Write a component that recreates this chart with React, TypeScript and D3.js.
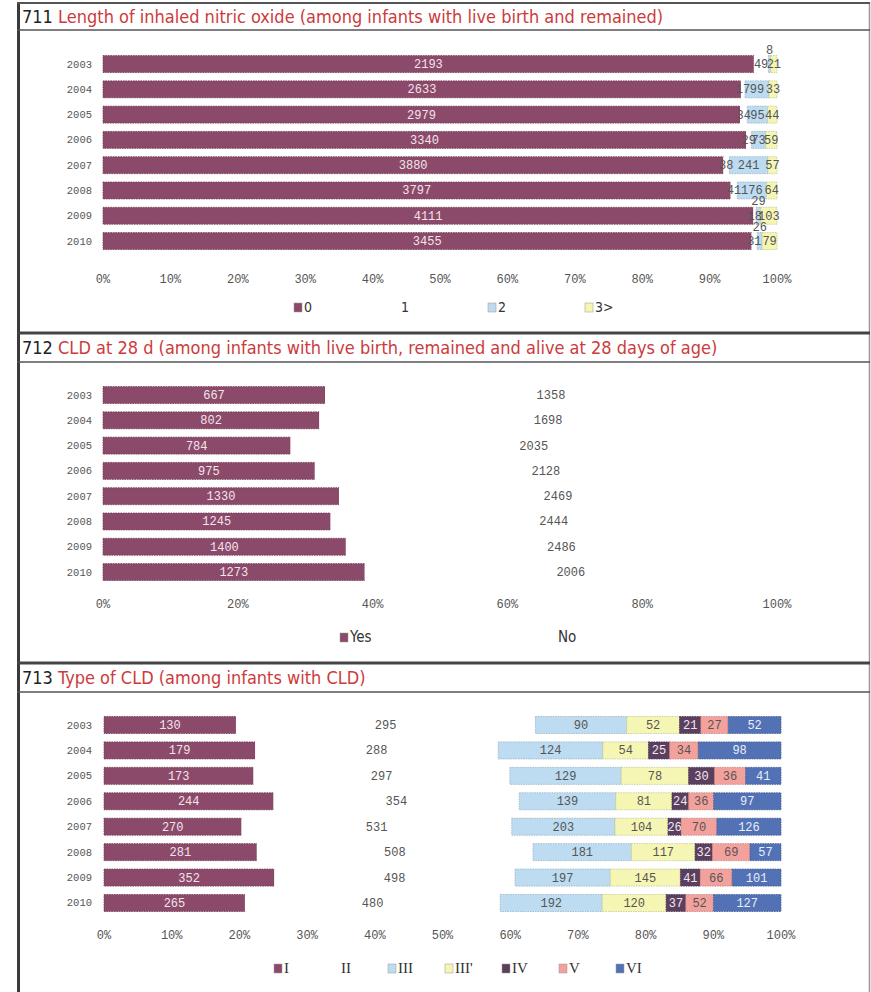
import * as d3 from "d3";
import React from "react";

const width = 871;
const height = 992;

const years = ["2003", "2004", "2005", "2006", "2007", "2008", "2009", "2010"];

// 711 length of inhaled nitric oxide
const no0 = [2193, 2633, 2979, 3340, 3880, 3797, 4111, 3455];
const no1 = [49, 17, 34, 29, 38, 41, 18, 31];
const no2 = [8, 99, 95, 73, 241, 176, 29, 26];
const no3 = [21, 33, 44, 59, 57, 64, 103, 79];

// 712 CLD at 28 d
const cldYes = [667, 802, 784, 975, 1330, 1245, 1400, 1273];
const cldNo = [1358, 1698, 2035, 2128, 2469, 2444, 2486, 2006];

// 713 type of CLD
const typeI = [130, 179, 173, 244, 270, 281, 352, 265];
const typeII = [295, 288, 297, 354, 531, 508, 498, 480];
const typeIII = [90, 124, 129, 139, 203, 181, 197, 192];
const typeIIIp = [52, 54, 78, 81, 104, 117, 145, 120];
const typeIV = [21, 25, 30, 24, 26, 32, 41, 37];
const typeV = [27, 34, 36, 36, 70, 69, 66, 52];
const typeVI = [52, 98, 41, 97, 126, 57, 101, 127];

const ticks10 = [0, 0.1, 0.2, 0.3, 0.4, 0.5, 0.6, 0.7, 0.8, 0.9, 1];
const ticks20 = [0, 0.2, 0.4, 0.6, 0.8, 1];

const plum = "#8c4a6a";
const lightBlue = "#bddcf1";
const paleYellow = "#f6f6b4";
const darkPlum = "#5b3f5e";
const salmon = "#f2a19c";
const steel = "#5371b5";

const monoFont = "'Liberation Mono', 'DejaVu Sans Mono', monospace";
const narrowFont = "'DejaVu Sans Condensed', 'Liberation Sans Narrow', sans-serif";

type Series = {
  name: string;
  values: number[];
  fill: string;
  text: string;
  above?: boolean;
};

type ChartProps = {
  series: Series[];
  yTop: number;
  yBottom: number;
  x0: number;
  x1: number;
  ticks: number[];
  tickY: number;
  legendY: number;
  legendX: number;
  legendStep: number;
  legendFont: string;
  legendSize: number;
};

const Chart = ({ series, yTop, yBottom, x0, x1, ticks, tickY, legendY, legendX, legendStep, legendFont, legendSize }: ChartProps) => {
  const keys = series.map((s) => s.name);
  const rows = years.map((y, i) => {
    const r: any = { year: y };
    series.forEach((s) => (r[s.name] = s.values[i]));
    return r;
  });
  const stacked = d3.stack().keys(keys).offset(d3.stackOffsetExpand)(rows);
  const x = d3.scaleLinear().domain([0, 1]).range([x0, x1]);
  const y = d3.scaleBand().domain(years).range([yTop, yBottom]).paddingInner(0.33).paddingOuter(0.165);
  const fmt = d3.format(".0%");

  return (
    <g>
      {years.map((yr) => (
        <text key={yr} x={92} y={y(yr)! + y.bandwidth() / 2 + 3.5} textAnchor="end" fontFamily={monoFont} fontSize={10.5} fill="#555">
          {yr}
        </text>
      ))}
      {stacked.map((layer, li) => (
        <g key={layer.key}>
          {layer.map((d, i) => {
            const s = series[li];
            return (
              <rect
                key={i}
                x={x(d[0])}
                y={y(years[i])!}
                width={x(d[1]) - x(d[0])}
                height={y.bandwidth()}
                fill={s.fill}
                stroke={s.fill === "#ffffff" ? "none" : d3.color(s.fill)!.darker(0.6).formatHex()}
                strokeWidth={0.8}
                strokeDasharray="1.5 1"
              />
            );
          })}
        </g>
      ))}
      {stacked.map((layer, li) => (
        <g key={layer.key + "-labels"}>
          {layer.map((d, i) => {
            const s = series[li];
            const xa = x(d[0]);
            const w = x(d[1]) - x(d[0]);
            const top = y(years[i])!;
            const narrow = s.above && w < 8;
            return (
              <text
                key={i}
                x={xa + w / 2}
                y={narrow ? top - 2 : top + y.bandwidth() / 2 + 4}
                textAnchor="middle"
                fontFamily={monoFont}
                fontSize={12}
                fill={s.text}
              >
                {s.values[i]}
              </text>
            );
          })}
        </g>
      ))}
      {ticks.map((t) => (
        <text key={t} x={x(t)} y={tickY} textAnchor="middle" fontFamily={monoFont} fontSize={12} fill="#555">
          {fmt(t)}
        </text>
      ))}
      {series.map((s, i) => (
        <g key={s.name} transform={`translate(${legendX + i * legendStep}, ${legendY})`}>
          <rect x={0} y={-9} width={8} height={9} fill={s.fill} stroke={s.fill === "#ffffff" ? "none" : "#999"} strokeWidth={0.5} />
          <text x={10} y={0} fontFamily={legendFont} fontSize={legendSize} fill="#333">
            {s.name}
          </text>
        </g>
      ))}
    </g>
  );
};

const Title = ({ num, label, y }: { num: string; label: string; y: number }) => (
  <text x={22} y={y} fontFamily={narrowFont} fontSize={18} fontStretch="condensed">
    <tspan fill="#222">{num} </tspan>
    <tspan fill="#cc3b3b">{label}</tspan>
  </text>
);

const App = () => {
  const nitric: Series[] = [
    { name: "0", values: no0, fill: plum, text: "#f3e4ec" },
    { name: "1", values: no1, fill: "#ffffff", text: "#555" },
    { name: "2", values: no2, fill: lightBlue, text: "#555", above: true },
    { name: "3>", values: no3, fill: paleYellow, text: "#555" },
  ];
  const cld: Series[] = [
    { name: "Yes", values: cldYes, fill: plum, text: "#f3e4ec" },
    { name: "No", values: cldNo, fill: "#ffffff", text: "#555" },
  ];
  const types: Series[] = [
    { name: "I", values: typeI, fill: plum, text: "#f3e4ec" },
    { name: "II", values: typeII, fill: "#ffffff", text: "#555" },
    { name: "III", values: typeIII, fill: lightBlue, text: "#555" },
    { name: "III'", values: typeIIIp, fill: paleYellow, text: "#555" },
    { name: "IV", values: typeIV, fill: darkPlum, text: "#f0e8f0" },
    { name: "V", values: typeV, fill: salmon, text: "#555" },
    { name: "VI", values: typeVI, fill: steel, text: "#e8eef8" },
  ];

  return (
    <svg width={width} height={height} style={{ position: "absolute", left: 0, top: 0, background: "#fff" }}>
      <rect width={width} height={height} fill="#fff" />
      {/* frame */}
      <line x1={18.5} x2={18.5} y1={2} y2={height} stroke="#3a3a3a" strokeWidth={3} />
      <line x1={869.5} x2={869.5} y1={2} y2={height} stroke="#999" strokeWidth={1.5} />
      <line x1={17} x2={870} y1={3} y2={3} stroke="#555" strokeWidth={2} />
      <line x1={17} x2={870} y1={30} y2={30} stroke="#555" strokeWidth={1.5} />
      <line x1={17} x2={870} y1={333} y2={333} stroke="#444" strokeWidth={3} />
      <line x1={17} x2={870} y1={362} y2={362} stroke="#555" strokeWidth={1.5} />
      <line x1={17} x2={870} y1={663} y2={663} stroke="#444" strokeWidth={3} />
      <line x1={17} x2={870} y1={692} y2={692} stroke="#555" strokeWidth={1.5} />

      <Title num="711" label="Length of inhaled nitric oxide (among infants with live birth and remained)" y={23} />
      <Title num="712" label="CLD at 28 d (among infants with live birth, remained and alive at 28 days of age)" y={354} />
      <Title num="713" label="Type of CLD (among infants with CLD)" y={684} />

      <Chart
        series={nitric}
        yTop={51.4}
        yBottom={253.7}
        x0={103}
        x1={777}
        ticks={ticks10}
        tickY={283}
        legendY={312}
        legendX={294}
        legendStep={97}
        legendFont={narrowFont}
        legendSize={14}
      />
      <Chart
        series={cld}
        yTop={382.4}
        yBottom={584.7}
        x0={103}
        x1={777}
        ticks={ticks20}
        tickY={608}
        legendY={642}
        legendX={340}
        legendStep={208}
        legendFont={narrowFont}
        legendSize={15}
      />
      <Chart
        series={types}
        yTop={712.3}
        yBottom={915.7}
        x0={104}
        x1={781}
        ticks={ticks10}
        tickY={939}
        legendY={973}
        legendX={274}
        legendStep={57}
        legendFont="'Liberation Serif', 'DejaVu Serif', serif"
        legendSize={15}
      />
    </svg>
  );
};

export default App;
